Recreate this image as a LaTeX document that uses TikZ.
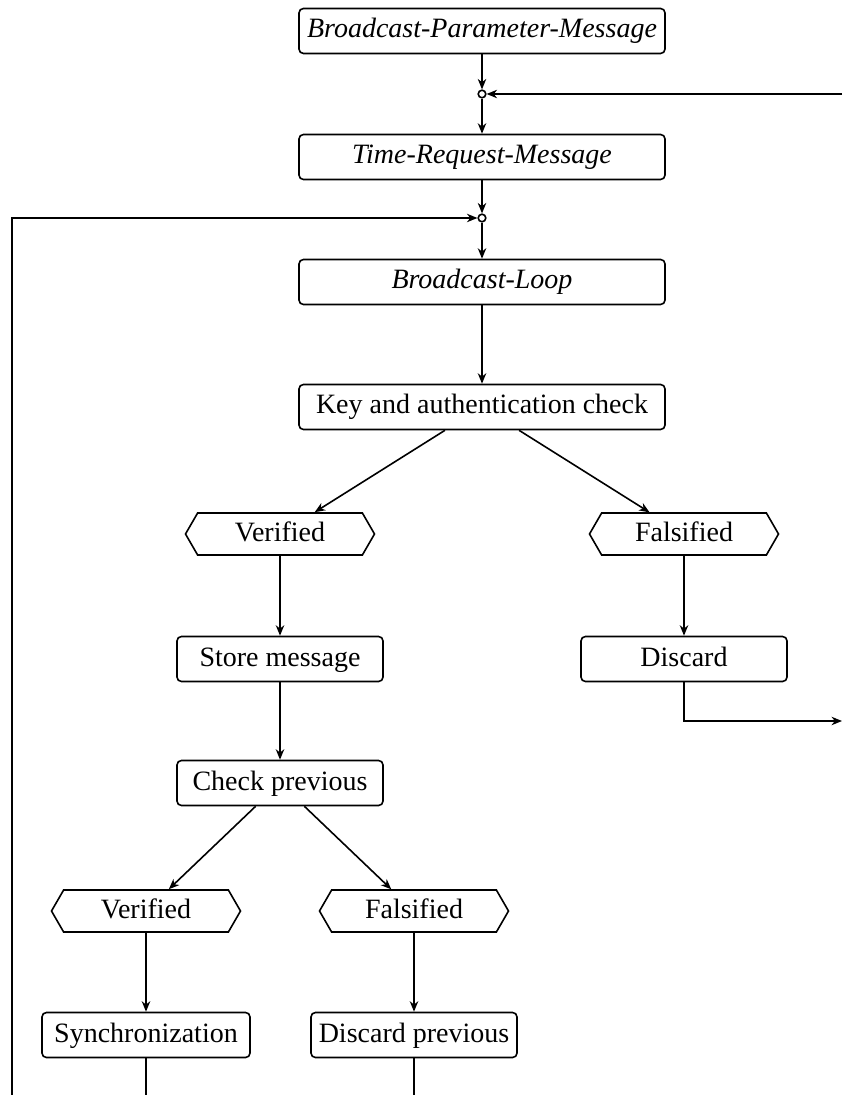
\documentclass[tikz,border=0pt]{standalone}
\usepackage{fontspec}
\setmainfont{Liberation Serif}
\usetikzlibrary{arrows.meta,shapes.symbols}
\begin{document}
\begin{tikzpicture}[x=0.5pt,y=-0.5pt,line width=0.8pt,
  >={Stealth[length=5.2pt,width=4.2pt,inset=1.6pt]},
  txt/.style={font=\fontsize{14}{16}\selectfont,text height=9.5pt,text depth=2.5pt},
  box/.style={txt,draw,rounded corners=2.2pt,minimum height=22.5pt,inner sep=0pt},
  widebox/.style={box,minimum width=183pt},
  midbox/.style={box,minimum width=103pt},
  hexbox/.style={txt,draw,signal,signal to=west and east,signal pointer angle=120,
    minimum width=94.5pt,minimum height=21pt,inner sep=0pt},
  junc/.style={circle,draw,fill=white,minimum size=3.8pt,inner sep=0pt}]
\useasboundingbox (0,0) rectangle (842,1095);
% nodes
\node[widebox] (bpm) at (482,31) {\itshape Broadcast-Parameter-Message};
\node[junc] (j1) at (482,94) {};
\node[widebox] (trm) at (482,157) {\itshape Time-Request-Message};
\node[junc] (j2) at (482,218) {};
\node[widebox] (loop) at (482,282) {\itshape Broadcast-Loop};
\node[widebox] (key) at (482,407) {Key and authentication check};
\node[hexbox] (ver1) at (280,534) {Verified};
\node[hexbox] (fal1) at (684,534) {Falsified};
\node[midbox] (store) at (280,659) {Store message};
\node[midbox] (disc) at (684,659) {Discard};
\node[midbox] (chk) at (280,783) {Check previous};
\node[hexbox] (ver2) at (146,911) {Verified};
\node[hexbox] (fal2) at (414,911) {Falsified};
\node[box,minimum width=104pt] (sync) at (146,1035) {Synchronization};
\node[midbox] (dprev) at (414,1035) {Discard previous};
% free ends
\coordinate (rin) at (842,94);
\coordinate (lb) at (12,1095);
\coordinate (rout) at (842,721);
\coordinate (sb) at (146,1095);
\coordinate (db) at (414,1095);
% connectors
\draw[->] (bpm) -- (j1);
\draw[->] (j1) -- (trm);
\draw[->] (rin) -- (j1);
\draw[->] (trm) -- (j2);
\draw[->] (lb) |- (j2);
\draw[->] (j2) -- (loop);
\draw[->] (loop) -- (key);
\draw[->] (key) -- (ver1);
\draw[->] (key) -- (fal1);
\draw[->] (ver1) -- (store);
\draw[->] (fal1) -- (disc);
\draw[->] (disc.south) |- (rout);
\draw[->] (store) -- (chk);
\draw[->] (chk) -- (ver2);
\draw[->] (chk) -- (fal2);
\draw[->] (ver2) -- (sync);
\draw[->] (fal2) -- (dprev);
\draw (sync) -- (sb);
\draw (dprev) -- (db);
\end{tikzpicture}
\end{document}
